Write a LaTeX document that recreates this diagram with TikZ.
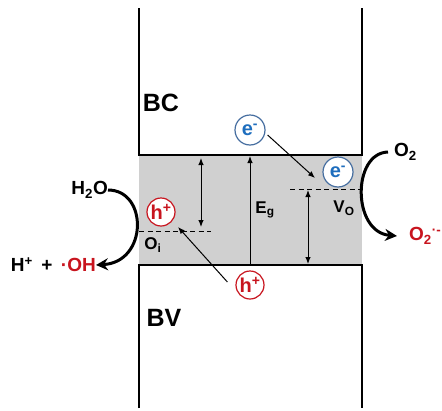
\documentclass[tikz,border=0pt]{standalone}
\usepackage{fontspec}
\setmainfont{Liberation Sans}
\usetikzlibrary{arrows.meta}
\definecolor{bandgray}{RGB}{208,208,208}
\definecolor{hred}{RGB}{200,20,30}
\definecolor{ecirc}{RGB}{70,110,160}
\definecolor{etext}{RGB}{30,110,190}
\tikzset{
  wall/.style={line width=1.8pt},
  thinarrow/.style={line width=1pt,-{Latex[length=7pt,width=5.5pt]}},
  dblarrow/.style={line width=1pt,{Latex[length=7pt,width=5.5pt]}-{Latex[length=7pt,width=5.5pt]}},
  levelline/.style={line width=1pt,dash pattern=on 5pt off 3.5pt},
  bigarrow/.style={line width=3pt,-{Stealth[length=12pt,width=12pt]}},
  ecircle/.style={circle,draw=ecirc,line width=1.2pt,fill=white,minimum size=30pt,inner sep=0pt,text=etext,font=\fontsize{20}{20}\selectfont\bfseries},
  hcircle/.style={circle,draw=hred,line width=1.2pt,fill=white,minimum size=28pt,inner sep=0pt,text=hred,font=\fontsize{20}{20}\selectfont\bfseries},
  bandlabel/.style={font=\fontsize{25}{25}\selectfont\bfseries,inner sep=0pt},
  chem/.style={font=\fontsize{19}{19}\selectfont\bfseries,inner sep=0pt},
  small/.style={font=\fontsize{17}{17}\selectfont\bfseries,inner sep=0pt}
}
\begin{document}
\begin{tikzpicture}[x=1pt,y=-1pt]
\useasboundingbox (0,0) rectangle (442,410);
% band gap
\fill[bandgray] (139,155) rectangle (362,265);
% conduction band box
\draw[wall] (139,8) -- (139,155) -- (362,155) -- (362,8);
% valence band box
\draw[wall] (139,408) -- (139,265) -- (362,265) -- (362,408);
\node[bandlabel] (bc) at (161,103) {BC};
\node[bandlabel] (bv) at (164,318) {BV};
% defect levels
\coordinate (oil) at (139,231);
\coordinate (oir) at (211,231);
\draw[levelline] (oil) -- (oir);
\coordinate (vol) at (290,189);
\coordinate (vor) at (362,189);
\draw[levelline] (vol) -- (vor);
% vertical arrows
\coordinate (a1t) at (201,158);
\coordinate (a1b) at (201,227);
\draw[dblarrow] (a1t) -- (a1b);
\coordinate (egb) at (250,265);
\coordinate (egt) at (250,156);
\draw[thinarrow] (egb) -- (egt);
\node[small] (eg) at (265,210) {E\textsubscript{g}};
\coordinate (a2t) at (308,190);
\coordinate (a2b) at (308,264);
\draw[dblarrow] (a2t) -- (a2b);
\node[small] (vo) at (344,208) {V\textsubscript{O}};
\node[small] (oi) at (153,245) {O\textsubscript{i}};
% carriers
\node[ecircle] (e1) at (250,130) {e\textsuperscript{-}};
\node[ecircle] (e2) at (338,172) {e\textsuperscript{-}};
\node[hcircle] (h1) at (161,212) {h\textsuperscript{+}};
\node[hcircle] (h2) at (250,285) {h\textsuperscript{+}};
\coordinate (e2tip) at (315,178);
\draw[thinarrow] (e1.east) ++(2,5) -- (e2tip);
\coordinate (h1tip) at (178,227);
\draw[thinarrow] (h2.west) ++(-8,-3) -- (h1tip);
% surface reactions
\node[chem,anchor=east] (h2o) at (108,190) {H\textsubscript{2}O};
\node[chem,anchor=east] (prod) at (96,265) {H\textsuperscript{+}\, + \,\textcolor{hred}{·OH}};
\draw[bigarrow] (h2o.east) .. controls (148,190) and (148,262) .. (prod.east);
\node[chem,anchor=west] (o2) at (394,152) {O\textsubscript{2}};
\node[chem,anchor=west,text=hred] (o2m) at (409,236) {O\textsubscript{2}\textsuperscript{·-}};
\draw[bigarrow] ([xshift=-6pt]o2.west) .. controls (352,153) and (352,232) .. ([xshift=-12pt]o2m.west);
\end{tikzpicture}
\end{document}
